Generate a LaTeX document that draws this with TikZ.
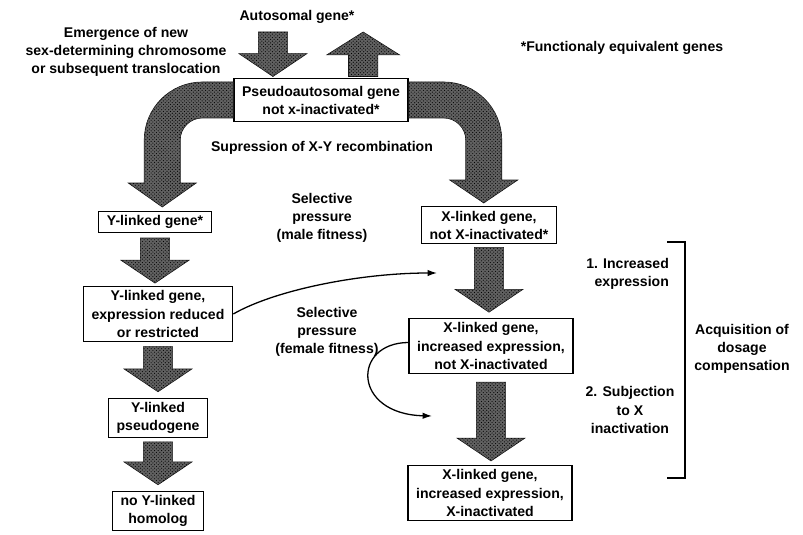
\documentclass[tikz,border=0pt]{standalone}
\usepackage{fontspec}
\setmainfont{Liberation Sans}
\usetikzlibrary{calc,% let inside the block arrows
arrows.meta,%          thin curved arrows
patterns}
\tikzset{every node/.style={font=\fontsize{12}{15.4}\selectfont\bfseries}}
\tikzset{
  gene/.style={draw, line width=1.1pt, align=center, inner xsep=7pt, inner ysep=3.5pt},
  remark/.style={align=center},
  texture/.style={fill=black!62, draw=black!90, line width=0.5pt,
    postaction={pattern=crosshatch dots, pattern color=black}},
  fatdown/.style={texture, to path={let \p1=(\tikztostart), \p2=(\tikztotarget) in
    (\x1-12.5pt,\y1) -- (\x1+12.5pt,\y1) -- (\x1+12.5pt,\y2+19.5pt) -- (\x1+29pt,\y2+19.5pt)
    -- (\x1,\y2) -- (\x1-29pt,\y2+19.5pt) -- (\x1-12.5pt,\y2+19.5pt) -- cycle}},
  fatup/.style={texture, to path={let \p1=(\tikztostart), \p2=(\tikztotarget) in
    (\x1-12.5pt,\y1) -- (\x1+12.5pt,\y1) -- (\x1+12.5pt,\y2-19.5pt) -- (\x1+31pt,\y2-19.5pt)
    -- (\x1,\y2) -- (\x1-31pt,\y2-19.5pt) -- (\x1-12.5pt,\y2-19.5pt) -- cycle}},
  thinarrow/.style={line width=1.1pt, -{Latex[length=8pt,width=5.5pt]}},
  bracketline/.style={line width=1.8pt}
}

\begin{document}
\begin{tikzpicture}[x=0.03cm, y=-0.03cm]
  \useasboundingbox (0,0) rectangle (803,535);
  % top texts
  \node (auto) at (297,17) {Autosomal gene*};
  \node[remark] (emerg) at (126,52) {Emergence of new\\sex-determining chromosome\\or subsequent translocation};
  \node (note) at (622,48) {*Functionaly equivalent genes};
  \node[gene, minimum height=37pt] (pa) at (321,100) {Pseudoautosomal gene\\not x-inactivated*};
  \node (supp) at (322,148) {Supression of X-Y recombination};
  \node[remark] (male) at (322,218) {Selective\\pressure\\(male fitness)};
  \node[remark] (female) at (327,332) {Selective\\pressure\\(female fitness)};
  % Y column
  \node[gene] (ya) at (155,222) {Y-linked gene*};
  \node[gene] (yb) at (158,314) {Y-linked gene,\\expression reduced\\or restricted};
  \node[gene] (yc) at (158,418) {Y-linked\\pseudogene};
  \node[gene] (yd) at (158,511) {no Y-linked\\homolog};
  % X column
  \node[gene] (xa) at (489,225) {X-linked gene,\\not X-inactivated*};
  \node[gene] (xb) at (491,346) {X-linked gene,\\increased expression,\\not X-inactivated};
  \node[gene] (xc) at (490,493) {X-linked gene,\\increased expression,\\X-inactivated};
  % dosage compensation
  \node[remark, align=right, anchor=east] (incr) at (673,274) {1. Increased\\expression};
  \node[remark] (subj) at (630,410) {2. Subjection\\to X\\inactivation};
  \node[remark] (acq) at (742,349) {Acquisition of\\dosage\\compensation};

  % block arrows
  \draw[fatdown] ([xshift=-41pt,yshift=39pt]pa.north) to ([xshift=-41pt,yshift=1pt]pa.north);
  \draw[fatup] ([xshift=36pt,yshift=1pt]pa.north) to ([xshift=36pt,yshift=39pt]pa.north);
  \draw[fatdown] ([yshift=-4pt]ya.south) to ([yshift=2.5pt]yb.north);
  \draw[fatdown] ([yshift=-4pt]yb.south) to ([yshift=5pt]yc.north);
  \draw[fatdown] ([yshift=-3pt]yc.south) to ([yshift=5pt]yd.north);
  \draw[fatdown] ([yshift=-3pt]xa.south) to ([yshift=5pt]xb.north);
  \draw[fatdown] ([yshift=-7pt]xb.south) to ([yshift=3.5pt]xc.north);
  \begin{scope}[shift={(pa.west)}]
    \draw[texture] (0,-18) -- (-31,-18) .. controls (-63,-18) and (-89,8) .. (-89,40) -- (-89,83)
      -- (-105,83) -- (-71,107) -- (-37,83) -- (-53,83) -- (-53,40)
      .. controls (-53,28) and (-43,18) .. (-31,18) -- (0,18) -- cycle;
  \end{scope}
  \begin{scope}[shift={(pa.east)}]
    \draw[texture] (0,-18) -- (35,-18) .. controls (67,-18) and (93,8) .. (93,40) -- (93,80)
      -- (109,80) -- (75,103) -- (41,80) -- (57,80) -- (57,40)
      .. controls (57,28) and (47,18) .. (35,18) -- (0,18) -- cycle;
  \end{scope}

  % selective pressure arrows
  \coordinate (tipm) at (437,273);
  \coordinate (tipf) at (432,416);
  \draw[thinarrow] (yb.east) .. controls (275,290) and (360,273) .. (tipm);
  \draw[thinarrow] ([yshift=3pt]xb.west) .. controls (352,343) and (352,414) .. (tipf);

  \draw[bracketline] (667,242) -- (685,242) -- (685,478) -- (667,478);
\end{tikzpicture}
\end{document}
